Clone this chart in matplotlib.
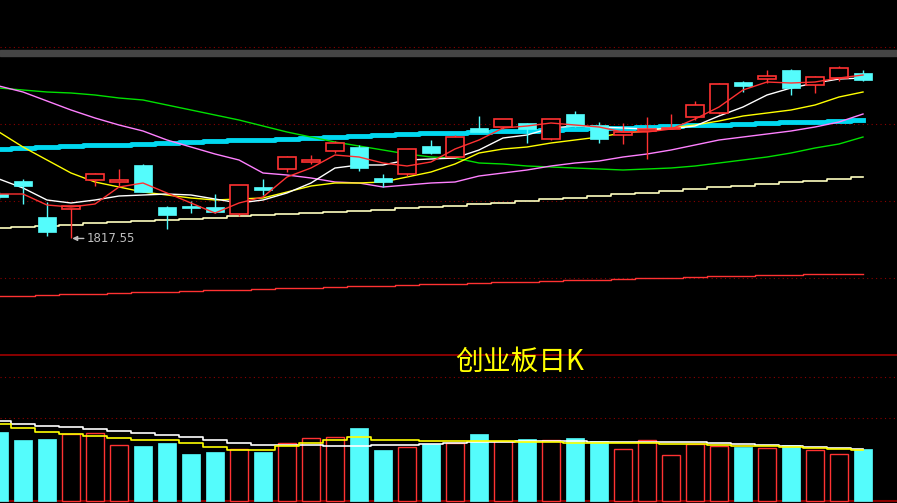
import matplotlib
matplotlib.use("Agg")
import matplotlib.pyplot as plt
import numpy as np

opens  = [1862,1875,1839,1847,1876,1874,1891,1849,1850,1849,1842,1869,1887,1894,1905,1909,1878,1882,1910,1899,1928,1929,1933,1917,1942,1931,1921,1925,1927,1939,1943,1974,1977,1986,1971,1978,1983]
closes = [1859,1870,1824,1850,1882,1876,1864,1841,1848,1844,1871,1866,1899,1896,1913,1888,1874,1907,1903,1919,1924,1937,1927,1937,1930,1917,1924,1927,1928,1951,1972,1970,1980,1968,1979,1988,1976]
highs  = [1864,1877,1854,1850,1883,1887,1892,1850,1855,1862,1871,1877,1900,1901,1915,1911,1882,1907,1916,1921,1940,1937,1933,1937,1945,1934,1933,1939,1942,1955,1973,1975,1986,1987,1980,1990,1986]
lows   = [1857,1852,1820,1817.55,1870,1870,1864,1827,1843,1843,1840,1861,1884,1892,1903,1885,1869,1880,1902,1899,1924,1927,1913,1916,1929,1913,1912,1897,1927,1936,1942,1964,1973,1961,1963,1975,1975]

ma5   = [1862,1862,1851,1849,1852,1869,1873,1863,1853,1843,1853,1859,1879,1888,1901,1899,1893,1890,1894,1907,1916,1928,1930,1933,1931,1929,1924,1924,1927,1937,1949,1966,1974,1973,1974,1978,1981]
ma10  = [1877,1868,1856,1853,1856,1860,1861,1862,1861,1857,1853,1856,1863,1873,1888,1891,1891,1896,1897,1898,1906,1918,1921,1928,1930,1929,1928,1927,1927,1930,1940,1949,1961,1968,1973,1977,1978]
ma20  = [1924,1909,1896,1883,1874,1869,1864,1861,1858,1856,1857,1858,1864,1870,1873,1873,1874,1879,1884,1892,1903,1907,1909,1913,1916,1919,1923,1925,1928,1931,1935,1940,1943,1946,1951,1959,1964]
ma30  = [1970,1964,1955,1946,1938,1931,1925,1916,1909,1902,1896,1883,1881,1878,1874,1873,1869,1871,1873,1874,1880,1883,1886,1890,1893,1895,1899,1902,1906,1911,1916,1919,1922,1925,1929,1934,1942]
ma60  = [1968,1966,1964,1963,1961,1958,1956,1951,1946,1941,1936,1930,1924,1919,1914,1910,1906,1902,1899,1898,1893,1892,1890,1889,1888,1887,1886,1887,1888,1890,1893,1896,1899,1903,1908,1912,1919]
ma_thick = [1907,1908,1909,1910,1911,1911,1912,1913,1914,1915,1916,1916,1917,1918,1919,1920,1921,1922,1923,1923,1924,1925,1925,1926,1927,1928,1928,1929,1930,1931,1931,1932,1933,1934,1934,1935,1936]
ma250 = [1828,1829,1830,1831,1833,1834,1835,1836,1837,1838,1840,1841,1842,1843,1844,1845,1846,1848,1849,1850,1852,1853,1855,1857,1858,1860,1862,1863,1865,1867,1869,1870,1872,1874,1875,1877,1879]
ma_low = [1760,1760,1761,1762,1762,1763,1764,1764,1765,1766,1766,1767,1768,1768,1769,1770,1770,1771,1772,1772,1773,1774,1774,1775,1776,1776,1777,1778,1778,1779,1780,1780,1781,1781,1782,1782,1782]

volume = [69,61,62,67,68,56,55,58,47,49,52,49,58,63,64,73,51,54,57,58,67,60,62,61,63,60,52,61,46,57,55,54,53,56,51,47,52]
vol_ma_w = [80,77,75,74,72,70,68,66,64,61,58,56,56,56,55,55,56,56,57,58,59,59,60,60,60,59,59,59,59,59,58,57,56,55,54,53,52]
vol_ma_y = [77,73,69,67,65,63,61,61,58,54,51,51,55,58,61,64,61,61,60,60,60,60,59,59,58,58,58,58,57,57,56,55,55,54,53,52,51]

low_label = "1817.55"
title = "创业板日K"

RED = "#ff3232"
CYAN = "#54fcfc"
GRID = "#8b0000"

fig = plt.figure(figsize=(8.97, 5.03), dpi=100, facecolor="black")
ax = fig.add_axes([0, 147/503, 1, 356/503], facecolor="black")
axv = fig.add_axes([0, 0, 1, 147/503], facecolor="black")
for a in (ax, axv):
    a.set_xlim(1/24, 898/24)
    a.axis("off")
ax.set_ylim(1700, 2056)
axv.set_ylim(-2, 145)

x = np.arange(len(opens))
w = 0.78

for g in (2009, 1932, 1855, 1778):
    ax.axhline(g, color=GRID, lw=0.8, ls=(0, (1, 3)), zorder=0)
ax.axhspan(2000, 2006, color="#454545", zorder=0)
ax.axhline(1701.5, color="#a00000", lw=1.2, zorder=0)
for g in (124, 83):
    axv.axhline(g, color=GRID, lw=0.8, ls=(0, (1, 3)), zorder=0)
axv.axhline(0, color=GRID, lw=1.5, zorder=0)

ax.plot(x, ma_low, color=RED, lw=1, drawstyle="steps-mid", zorder=1)
ax.plot(x, ma250, color="#ffffc0", lw=1.2, drawstyle="steps-mid", zorder=1)
ax.plot(x, ma_thick, color="#00d8f0", lw=3.5, drawstyle="steps-mid", zorder=1)
ax.plot(x, ma60, color="#00e000", lw=1, zorder=1)
ax.plot(x, ma30, color="#ff80ff", lw=1, zorder=1)
ax.plot(x, ma20, color="#ffff00", lw=1, zorder=1)
ax.plot(x, ma10, color="white", lw=1, zorder=1)

for i in x:
    o, c, h, l = opens[i], closes[i], highs[i], lows[i]
    up = c >= o
    col = RED if up else CYAN
    ax.vlines(i, l, h, color=col, lw=1, zorder=2)
    bot, top = min(o, c), max(o, c)
    if up:
        ax.add_patch(plt.Rectangle((i - w/2, bot), w, max(top - bot, 0.8), facecolor="black", edgecolor=col, lw=1.2, zorder=3))
        axv.add_patch(plt.Rectangle((i - w/2, 0), w, volume[i], facecolor="black", edgecolor=RED, lw=1, zorder=2))
    else:
        ax.add_patch(plt.Rectangle((i - w/2, bot), w, max(top - bot, 0.8), facecolor=col, edgecolor=col, lw=0.5, zorder=3))
        axv.add_patch(plt.Rectangle((i - w/2, 0), w, volume[i], facecolor=CYAN, edgecolor=CYAN, lw=0.5, zorder=2))

ax.plot(x, ma5, color=RED, lw=1, zorder=4)

axv.plot(x, vol_ma_w, color="white", lw=1.2, drawstyle="steps-mid", zorder=3)
axv.plot(x, vol_ma_y, color="#ffff00", lw=1.2, drawstyle="steps-mid", zorder=3)

ax.annotate(low_label, xy=(3.05, lows[3]), xytext=(3.65, lows[3]), color="#c0c0c0",
            fontsize=8.5, va="center", ha="left",
            arrowprops=dict(arrowstyle="-|>", color="#c0c0c0", lw=1, mutation_scale=7,
                            shrinkA=0, shrinkB=0), zorder=5)

fig.text(520/897, 1 - 362/503, title, color="#ffff00", fontsize=20,
         family=["Noto Sans CJK SC", "DejaVu Sans"], ha="center", va="center")

fig.savefig("out.png", dpi=100, facecolor="black")
